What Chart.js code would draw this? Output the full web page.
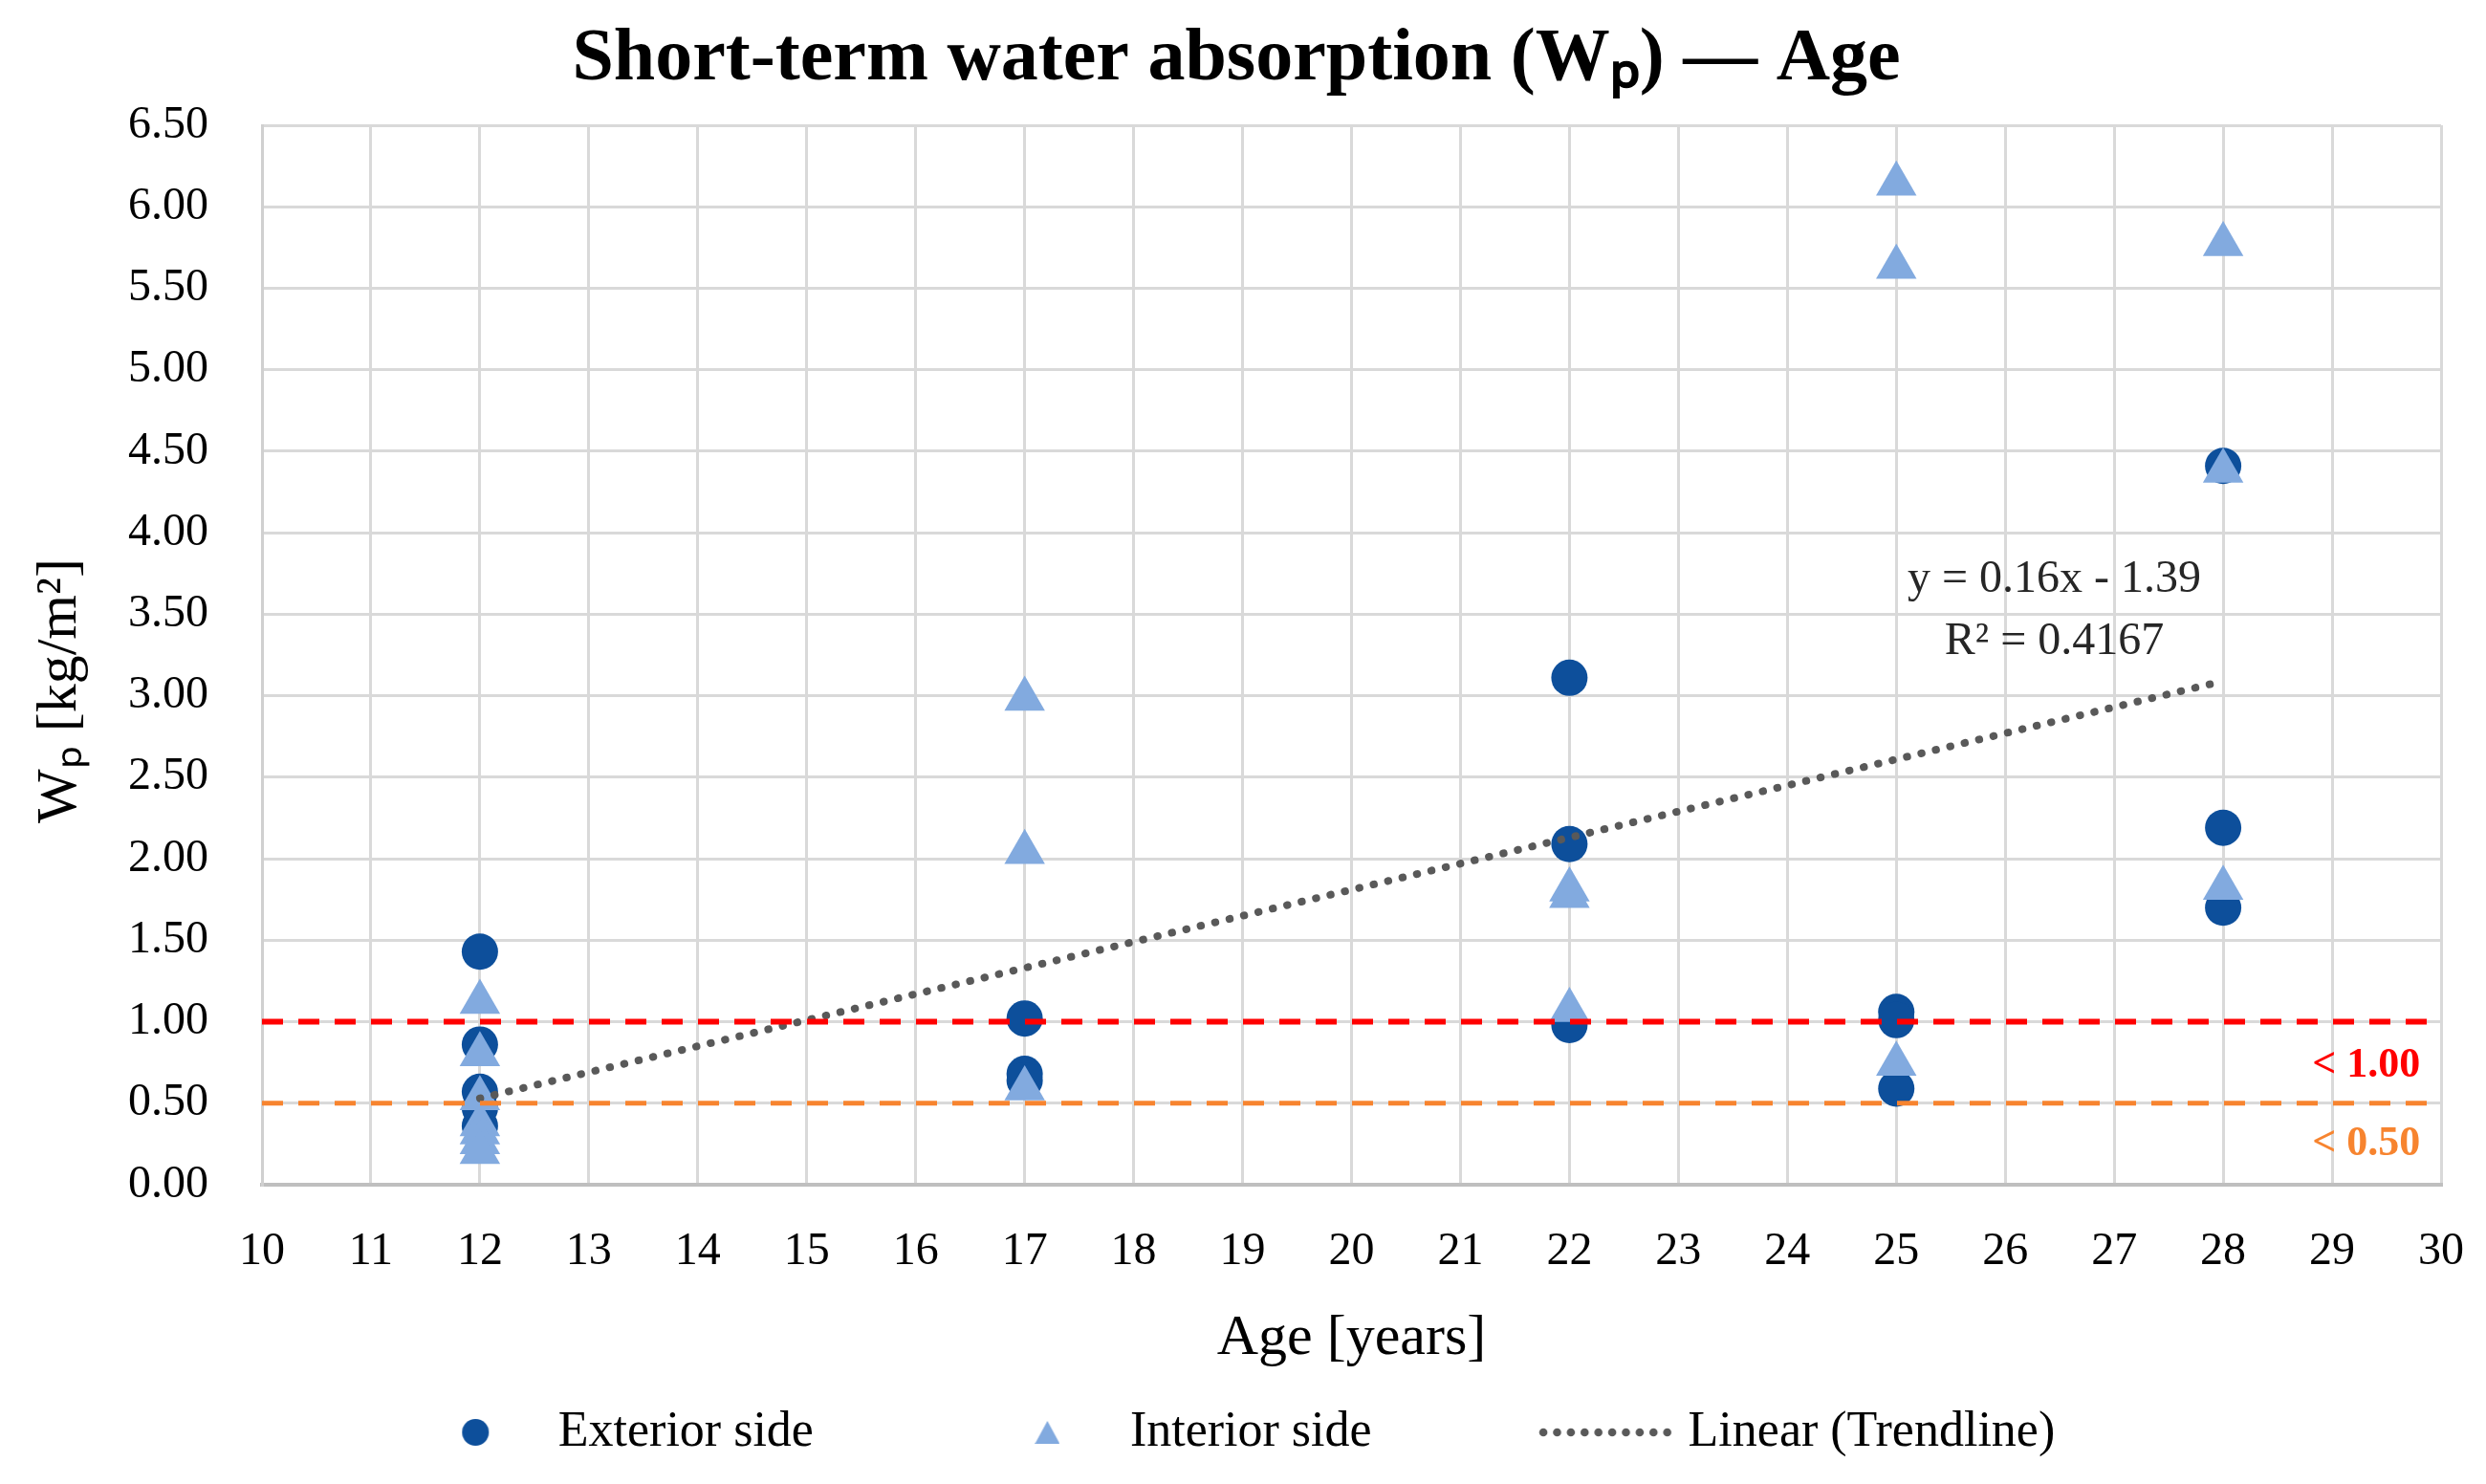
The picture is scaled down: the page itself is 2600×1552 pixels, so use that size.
<!DOCTYPE html>
<html>
<head>
<meta charset="utf-8">
<script src="https://cdn.jsdelivr.net/npm/chart.js@4.4.1/dist/chart.umd.min.js"></script>
<style>
html,body{margin:0;padding:0;background:#ffffff;}
#wrap{width:2600px;height:1552px;}
</style>
</head>
<body>
<div id="wrap"><canvas id="c" width="2600" height="1552"></canvas></div>
<script>
// ---- data ----
const exteriorAge = [12, 12, 12, 12, 12, 17, 17, 17, 22, 22, 22, 25, 25, 25, 28, 28, 28];
const exteriorWp  = [1.43, 0.86, 0.57, 0.47, 0.36, 1.02, 0.68, 0.64, 3.11, 2.09, 0.98, 1.06, 1.01, 0.59, 4.41, 2.19, 1.70];

const interiorAge = [12, 12, 12, 12, 12, 12, 12, 17, 17, 17, 22, 22, 22, 25, 25, 25, 28, 28, 28];
const interiorWp  = [1.12, 0.80, 0.53, 0.37, 0.32, 0.26, 0.20, 2.98, 2.04, 0.59, 1.81, 1.77, 1.07, 6.14, 5.63, 0.74, 5.77, 4.38, 1.82];

const trendAge = [12, 28];
const trendWp  = [0.53, 3.09];

const limitAge  = [10, 30];
const limitHigh = [1.00, 1.00];
const limitLow  = [0.50, 0.50];

const seriesNames = ['Exterior side', 'Interior side', 'Linear (Trendline)'];
const limitLabels = ['< 1.00', '< 0.50'];
const trendText   = ['y = 0.16x - 1.39', 'R² = 0.4167'];

const xMin = 10, xMax = 30, xStep = 1;
const yMin = 0, yMax = 6.5, yStep = 0.5;

// ---- styles ----
const FONT = '"Liberation Serif", "Times New Roman", serif';
const C_EXT = '#0d4f9b';
const C_INT = '#82aadf';
const C_TREND = '#595959';
const C_RED = '#ff0000';
const C_ORANGE = '#f7842f';
const C_GRID = '#d9d9d9';
const LEGEND_GAP = '    '; // extra spacing after the first two legend entries

function pts(xs, ys) { return xs.map((v, i) => ({x: v, y: ys[i]})); }

// legend icons
function makeCircleIcon() {
  const c = document.createElement('canvas'); c.width = 30; c.height = 30;
  const g = c.getContext('2d'); g.fillStyle = C_EXT;
  g.beginPath(); g.arc(15, 15, 14, 0, Math.PI * 2); g.fill(); return c;
}
function makeTriangleIcon() {
  const c = document.createElement('canvas'); c.width = 26; c.height = 24;
  const g = c.getContext('2d'); g.fillStyle = C_INT;
  g.beginPath(); g.moveTo(13, 0); g.lineTo(26, 24); g.lineTo(0, 24); g.closePath(); g.fill(); return c;
}
function makeDotIcon() {
  const c = document.createElement('canvas'); c.width = 140; c.height = 12;
  const g = c.getContext('2d'); g.fillStyle = C_TREND;
  for (let i = 0; i < 10; i++) { g.beginPath(); g.arc(5 + i * 14.4, 6, 4.3, 0, Math.PI * 2); g.fill(); }
  return c;
}
const legendIcons = [makeCircleIcon(), makeTriangleIcon(), makeDotIcon()];

const annotations = {
  id: 'annotations',
  afterDatasetsDraw(chart) {
    const {ctx, scales: {x, y}} = chart;
    ctx.save();
    ctx.textBaseline = 'middle';
    ctx.font = '48px ' + FONT;
    ctx.fillStyle = '#262626';
    ctx.textAlign = 'center';
    ctx.fillText(trendText[0], x.getPixelForValue(26.45), y.getPixelForValue(3.71));
    ctx.fillText(trendText[1], x.getPixelForValue(26.45), y.getPixelForValue(3.33));
    ctx.font = 'bold 44px ' + FONT;
    ctx.textAlign = 'right';
    ctx.fillStyle = C_RED;
    ctx.fillText(limitLabels[0], x.getPixelForValue(29.81), y.getPixelForValue(0.73));
    ctx.fillStyle = C_ORANGE;
    ctx.fillText(limitLabels[1], x.getPixelForValue(29.81), y.getPixelForValue(0.25));
    ctx.restore();
  }
};

new Chart(document.getElementById('c'), {
  type: 'scatter',
  data: {
    datasets: [
      { label: 'limit1', data: pts(limitAge, limitHigh), showLine: true, borderColor: C_RED, borderWidth: 6,
        borderDash: [22, 16], pointRadius: 0, order: 0 },
      { label: 'limit05', data: pts(limitAge, limitLow), showLine: true, borderColor: C_ORANGE, borderWidth: 5,
        borderDash: [22, 16], pointRadius: 0, order: 0 },
      { label: seriesNames[2], data: pts(trendAge, trendWp), showLine: true, borderColor: C_TREND, borderWidth: 8,
        borderDash: [0.5, 15], borderCapStyle: 'round', pointRadius: 0, order: 1, legendIndex: 2 },
      { label: seriesNames[1], data: pts(interiorAge, interiorWp), pointStyle: 'triangle', pointRadius: 24.5,
        backgroundColor: C_INT, borderColor: C_INT, borderWidth: 0, order: 2, legendIndex: 1 },
      { label: seriesNames[0], data: pts(exteriorAge, exteriorWp), pointStyle: 'circle', pointRadius: 19,
        backgroundColor: C_EXT, borderColor: C_EXT, borderWidth: 0, order: 3, legendIndex: 0 }
    ]
  },
  options: {
    responsive: false,
    animation: false,
    devicePixelRatio: 1,
    layout: { padding: { left: 33, right: 47, top: 0, bottom: 18 } },
    plugins: {
      tooltip: { enabled: false },
      title: {
        display: true,
        text: 'Short-term water absorption (Wₚ) — Age',
        color: '#000',
        font: { family: FONT, size: 78, weight: 'bold', lineHeight: 1.2 },
        padding: { top: 16, bottom: 21.4 }
      },
      legend: {
        position: 'bottom',
        labels: {
          usePointStyle: true,
          pointStyleWidth: 121,
          padding: 132,
          color: '#000',
          font: { family: FONT, size: 52 },
          generateLabels(chart) {
            const items = [];
            chart.data.datasets.forEach((ds, i) => {
              if (ds.legendIndex === undefined) return;
              items.push({
                text: ds.label + (ds.legendIndex < 2 ? LEGEND_GAP : ''), datasetIndex: i, hidden: false,
                pointStyle: legendIcons[ds.legendIndex],
                fillStyle: 'transparent', strokeStyle: 'transparent', lineWidth: 0,
                fontColor: '#000', _k: ds.legendIndex
              });
            });
            return items.sort((a, b) => a._k - b._k);
          }
        }
      }
    },
    scales: {
      x: {
        type: 'linear', min: xMin, max: xMax,
        afterFit(scale) { scale.height = 101; },
        ticks: { stepSize: xStep, padding: 0, color: '#000', font: { family: FONT, size: 48 } },
        grid: { color: C_GRID, lineWidth: 3, drawTicks: true, tickLength: 42, tickColor: 'rgba(0,0,0,0)' },
        border: { color: '#bfbfbf', width: 4 },
        title: { display: true, text: 'Age [years]', color: '#000',
          font: { family: FONT, size: 60, lineHeight: 1 }, padding: { top: 0, bottom: -90 } }
      },
      y: {
        type: 'linear', min: yMin, max: yMax,
        afterFit(scale) { scale.width = 241; },
        ticks: { stepSize: yStep, padding: 56, color: '#000', font: { family: FONT, size: 48 },
          callback: v => Number(v).toFixed(2) },
        grid: { color: C_GRID, lineWidth: 3, drawTicks: false },
        border: { color: '#d0d0d0', width: 3 },
        title: { display: true, text: 'Wₚ [kg/m²]     ', color: '#000',
          font: { family: FONT, size: 60, lineHeight: 1 }, padding: { top: 0, bottom: 0 } }
      }
    }
  },
  plugins: [annotations]
});
</script>
</body>
</html>
